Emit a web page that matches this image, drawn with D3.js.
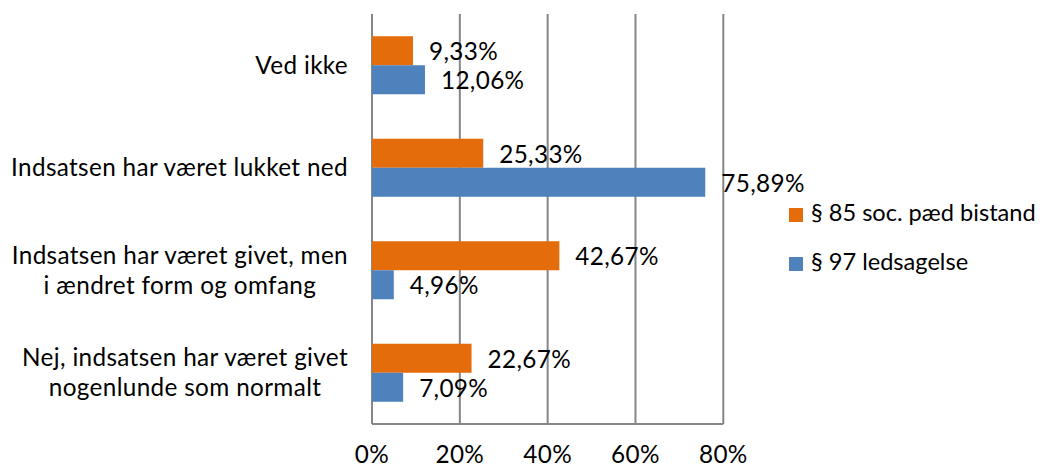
<!DOCTYPE html>
<html><head><meta charset="utf-8">
<script src="https://cdn.jsdelivr.net/npm/d3@7"></script>
<style>body{margin:0;background:#fff}svg{display:block}text{font-family:Lato,"Open Sans",sans-serif;fill:#000;letter-spacing:0.35px}text.leg{letter-spacing:0}</style>
</head><body>
<svg id="c" width="1046" height="468"></svg>
<script>
const categories = [
  ["Ved ikke"],
  ["Indsatsen har været lukket ned"],
  ["Indsatsen har været givet, men", "i ændret form og omfang"],
  ["Nej, indsatsen har været givet", "nogenlunde som normalt"]
];
const seriesNames = ["§ 85 soc. pæd bistand", "§ 97 ledsagelse"];
const s85 = [9.33, 25.33, 42.67, 22.67];
const s97 = [12.06, 75.89, 4.96, 7.09];
const tickValues = [0, 20, 40, 60, 80];
const tickLabels = ["0%", "20%", "40%", "60%", "80%"];
const colors = ["#E46C0A", "#4F81BD"];

const svg = d3.select("#c");
const fs = 24.3;
const x = d3.scaleLinear().domain([0, 80]).range([372, 723.3]);
const y = d3.scaleBand().domain(d3.range(categories.length)).range([14, 424]).paddingInner(0.434).paddingOuter(0.217);
const sub = d3.scaleBand().domain([0, 1]).range([0, y.bandwidth()]);
const series = [s85, s97];

// gridlines
svg.append("g").selectAll("line").data(tickValues).join("line")
  .attr("x1", d => x(d)).attr("x2", d => x(d)).attr("y1", 14).attr("y2", 424)
  .attr("stroke", "#868686").attr("stroke-width", 2);
svg.append("line").attr("x1", x(0)).attr("x2", x(80)).attr("y1", 424).attr("y2", 424)
  .attr("stroke", "#868686").attr("stroke-width", 2);

// bars
series.forEach((vals, si) => {
  svg.append("g").selectAll("rect").data(vals).join("rect")
    .attr("x", x(0)).attr("y", (d, i) => y(i) + sub(si))
    .attr("width", d => x(d) - x(0)).attr("height", sub.bandwidth())
    .attr("fill", colors[si]);
  svg.append("g").selectAll("text").data(vals).join("text")
    .attr("x", d => x(d) + 16).attr("y", (d, i) => y(i) + sub(si) + sub.bandwidth() / 2 + 9.5)
    .attr("font-size", fs)
    .text(d => d.toFixed(2).replace(".", ",") + "%");
});

// category labels
categories.forEach((lines, i) => {
  const cy = y(i) + y.bandwidth() / 2;
  const g = svg.append("g");
  const t = g.append("text").attr("font-size", fs).attr("text-anchor", "middle");
  lines.forEach((ln, j) => {
    t.append("tspan").attr("x", 0).attr("y", cy + 8.5 + (j - (lines.length - 1) / 2) * 30).text(ln);
  });
  const bb = t.node().getBBox();
  g.attr("transform", `translate(${348 - bb.width / 2},0)`);
});

// x tick labels
svg.append("g").selectAll("text").data(tickValues).join("text")
  .attr("x", d => x(d)).attr("y", 463).attr("text-anchor", "middle")
  .attr("font-size", fs)
  .text((d, i) => tickLabels[i]);

// legend
seriesNames.forEach((n, i) => {
  svg.append("rect").attr("x", 789).attr("y", 208 + i * 49).attr("width", 14).attr("height", 14).attr("fill", colors[i]);
  svg.append("text").attr("class", "leg").attr("x", 811).attr("y", 221 + i * 49)
    .attr("font-size", 23.6).text(n);
});
</script>
</body></html>
